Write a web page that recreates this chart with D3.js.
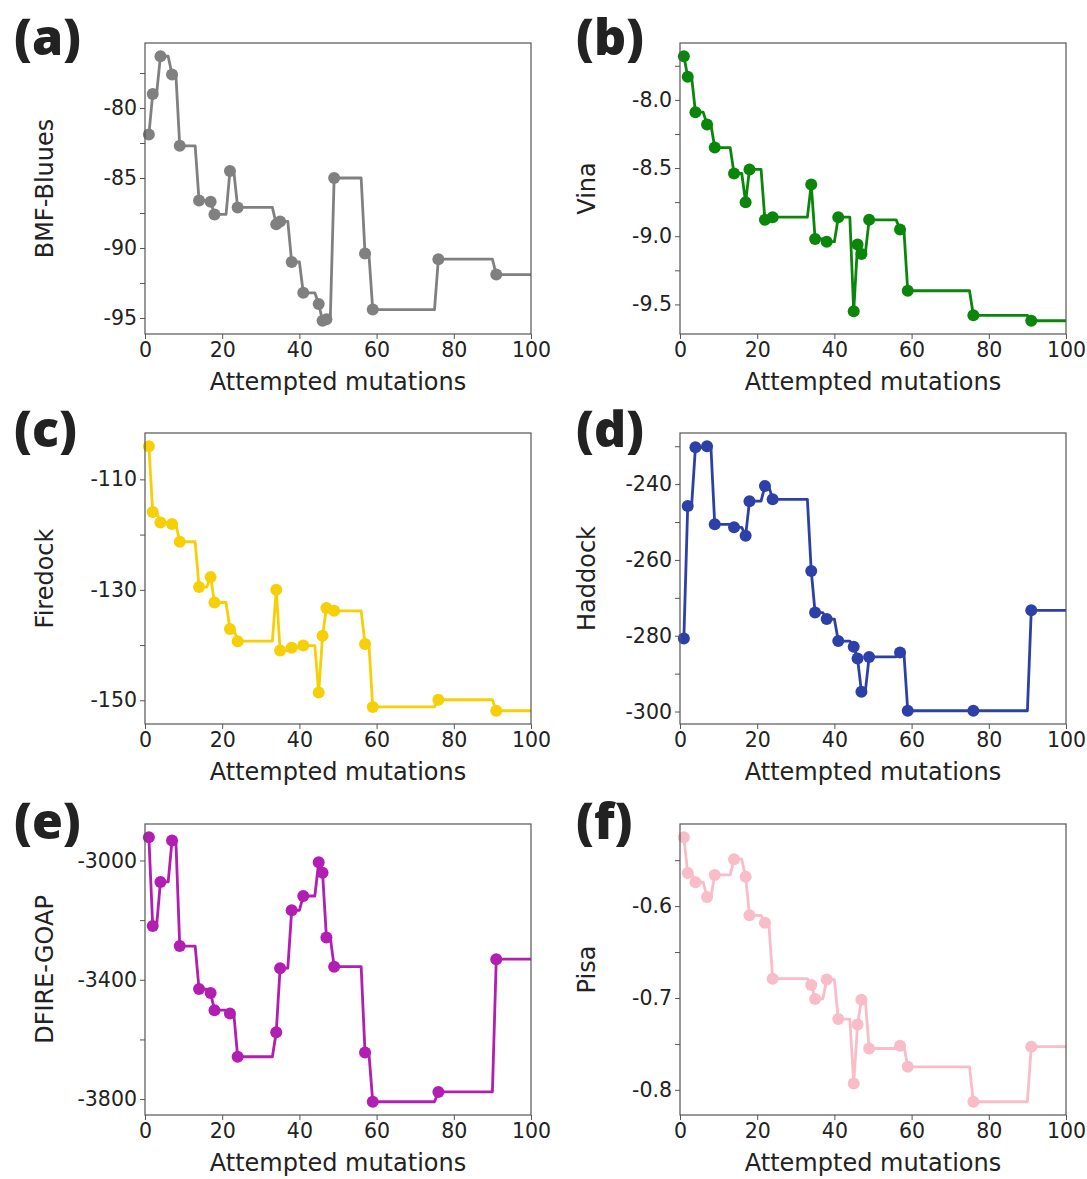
<!DOCTYPE html>
<html>
<head>
<meta charset="utf-8">
<script src="https://cdn.jsdelivr.net/npm/d3@7"></script>
<style>
  body { margin: 0; background: #fff; }
  text { font-family: "DejaVu Sans", sans-serif; fill: #222; }
  .panel-label { font-family: "Open Sans", "DejaVu Sans", sans-serif; font-weight: 800; }
</style>
</head>
<body>
<div id="chart"></div>
<script>
// attempted mutation index of each accepted step (same for every scorer)
const attempts = [1, 2, 4, 7, 9, 14, 17, 18, 22, 24, 34, 35, 38, 41, 45, 46, 47, 49, 57, 59, 76, 91];

const bmfBluues = [-81.9, -79.0, -76.3, -77.6, -82.7, -86.6, -86.7, -87.6, -84.5, -87.1, -88.3,
  -88.1, -91.0, -93.2, -94.0, -95.2, -95.1, -85.0, -90.4, -94.4, -90.8, -91.9];
const vina = [-7.68, -7.83, -8.09, -8.18, -8.35, -8.54, -8.75, -8.51, -8.88, -8.86, -8.62,
  -9.02, -9.04, -8.86, -9.55, -9.06, -9.13, -8.88, -8.95, -9.40, -9.58, -9.62];
const firedock = [-104.0, -115.9, -117.8, -118.1, -121.3, -129.5, -127.7, -132.3, -137.1, -139.3, -130.0,
  -141.0, -140.5, -140.1, -148.6, -138.3, -133.3, -133.8, -139.8, -151.2, -149.9, -151.9];
const haddock = [-280.7, -245.8, -230.3, -230.0, -250.6, -251.4, -253.6, -244.5, -240.5, -244.0, -262.9,
  -273.9, -275.6, -281.4, -282.9, -286.0, -294.8, -285.6, -284.4, -299.8, -299.8, -273.3];
const dfireGoap = [-2922, -3220, -3072, -2933, -3287, -3431, -3444, -3502, -3513, -3658, -3576,
  -3361, -3167, -3119, -3006, -3041, -3258, -3356, -3644, -3809, -3776, -3331];
const pisa = [-0.525, -0.564, -0.574, -0.590, -0.566, -0.549, -0.568, -0.610, -0.618, -0.679, -0.686,
  -0.701, -0.680, -0.723, -0.793, -0.729, -0.702, -0.755, -0.752, -0.775, -0.813, -0.753];

const xTicks = [0, 20, 40, 60, 80, 100];
const xLabel = "Attempted mutations";

const panels = [
  { tag: "(a)", name: "BMF-Bluues", values: bmfBluues, color: "#808080",
    ticks: [-80, -85, -90, -95], minor: [-77.5, -82.5, -87.5, -92.5], fmt: "d" },
  { tag: "(b)", name: "Vina", values: vina, color: "#0a870a",
    ticks: [-8.0, -8.5, -9.0, -9.5], minor: [-7.75, -8.25, -8.75, -9.25], fmt: ".1f" },
  { tag: "(c)", name: "Firedock", values: firedock, color: "#f7cf06",
    ticks: [-110, -130, -150], minor: [-120, -140], fmt: "d" },
  { tag: "(d)", name: "Haddock", values: haddock, color: "#2d40a8",
    ticks: [-240, -260, -280, -300], minor: [-230, -250, -270, -290], fmt: "d" },
  { tag: "(e)", name: "DFIRE-GOAP", values: dfireGoap, color: "#b21db2",
    ticks: [-3000, -3400, -3800], minor: [-3200, -3600], fmt: "d" },
  { tag: "(f)", name: "Pisa", values: pisa, color: "#f9bcc9",
    ticks: [-0.6, -0.7, -0.8], minor: [-0.55, -0.65, -0.75], fmt: ".1f" },
];

const W = 1087, H = 1179;
const colLeft = [145, 680];
const rowTop = [43, 433, 824];
const plotW = 386, plotH = 291;
const ylabelX = [45, 587];
const tagX = [14, 576];
const tagBaseline = [55, 447, 839];

const svg = d3.select("#chart").append("svg")
  .attr("width", W).attr("height", H);

panels.forEach((p, i) => {
  const col = i % 2, row = Math.floor(i / 2);
  const left = colLeft[col], top = rowTop[row];
  const g = svg.append("g").attr("transform", `translate(${left},${top})`);

  const x = d3.scaleLinear().domain([0, 100]).range([0, plotW]);
  // matplotlib-like 5% margin on y
  const ext = d3.extent(p.values);
  const pad = (ext[1] - ext[0]) * 0.05;
  const y = d3.scaleLinear().domain([ext[0] - pad, ext[1] + pad]).range([plotH, 0]);

  // line: hold value until one step before next accepted attempt
  const pts = [];
  attempts.forEach((a, k) => {
    pts.push([a, p.values[k]]);
    const next = attempts[k + 1];
    if (next !== undefined && next - 1 > a) pts.push([next - 1, p.values[k]]);
  });
  pts.push([100, p.values[p.values.length - 1]]);

  g.append("path")
    .datum(pts)
    .attr("fill", "none")
    .attr("stroke", p.color)
    .attr("stroke-width", 2.8)
    .attr("stroke-linejoin", "round")
    .attr("d", d3.line().x(d => x(d[0])).y(d => y(d[1])));

  g.selectAll("circle")
    .data(attempts)
    .join("circle")
    .attr("cx", d => x(d))
    .attr("cy", (d, k) => y(p.values[k]))
    .attr("r", 6)
    .attr("fill", p.color);

  // axes
  const fmt = d3.format(p.fmt);
  g.append("g")
    .call(d3.axisLeft(y).tickValues(p.ticks).tickSize(5).tickPadding(3)
      .tickFormat(d => fmt(d).replace("−", "-")));
  g.append("g")
    .call(d3.axisLeft(y).tickValues(p.minor).tickSize(5).tickFormat(""));
  g.append("g")
    .attr("transform", `translate(0,${plotH})`)
    .call(d3.axisBottom(x).tickValues(xTicks).tickSize(5).tickPadding(3));

  g.selectAll(".domain").remove();
  g.selectAll(".tick line").attr("stroke", "#555");
  g.selectAll(".tick text").attr("font-size", 20.5).attr("fill", "#222");

  g.append("rect")
    .attr("width", plotW).attr("height", plotH)
    .attr("fill", "none").attr("stroke", "#555").attr("stroke-width", 1.2);

  g.append("text")
    .attr("x", plotW / 2).attr("y", plotH + 56)
    .attr("text-anchor", "middle")
    .attr("font-size", 24)
    .text(xLabel);

  svg.append("text")
    .attr("transform", `translate(${ylabelX[col]},${top + plotH / 2}) rotate(-90)`)
    .attr("text-anchor", "middle")
    .attr("dominant-baseline", "central")
    .attr("font-size", 24)
    .text(p.name);

  svg.append("text")
    .attr("class", "panel-label")
    .attr("x", tagX[col]).attr("y", tagBaseline[row])
    .attr("font-size", 50)
    .text(p.tag);
});
</script>
</body>
</html>
